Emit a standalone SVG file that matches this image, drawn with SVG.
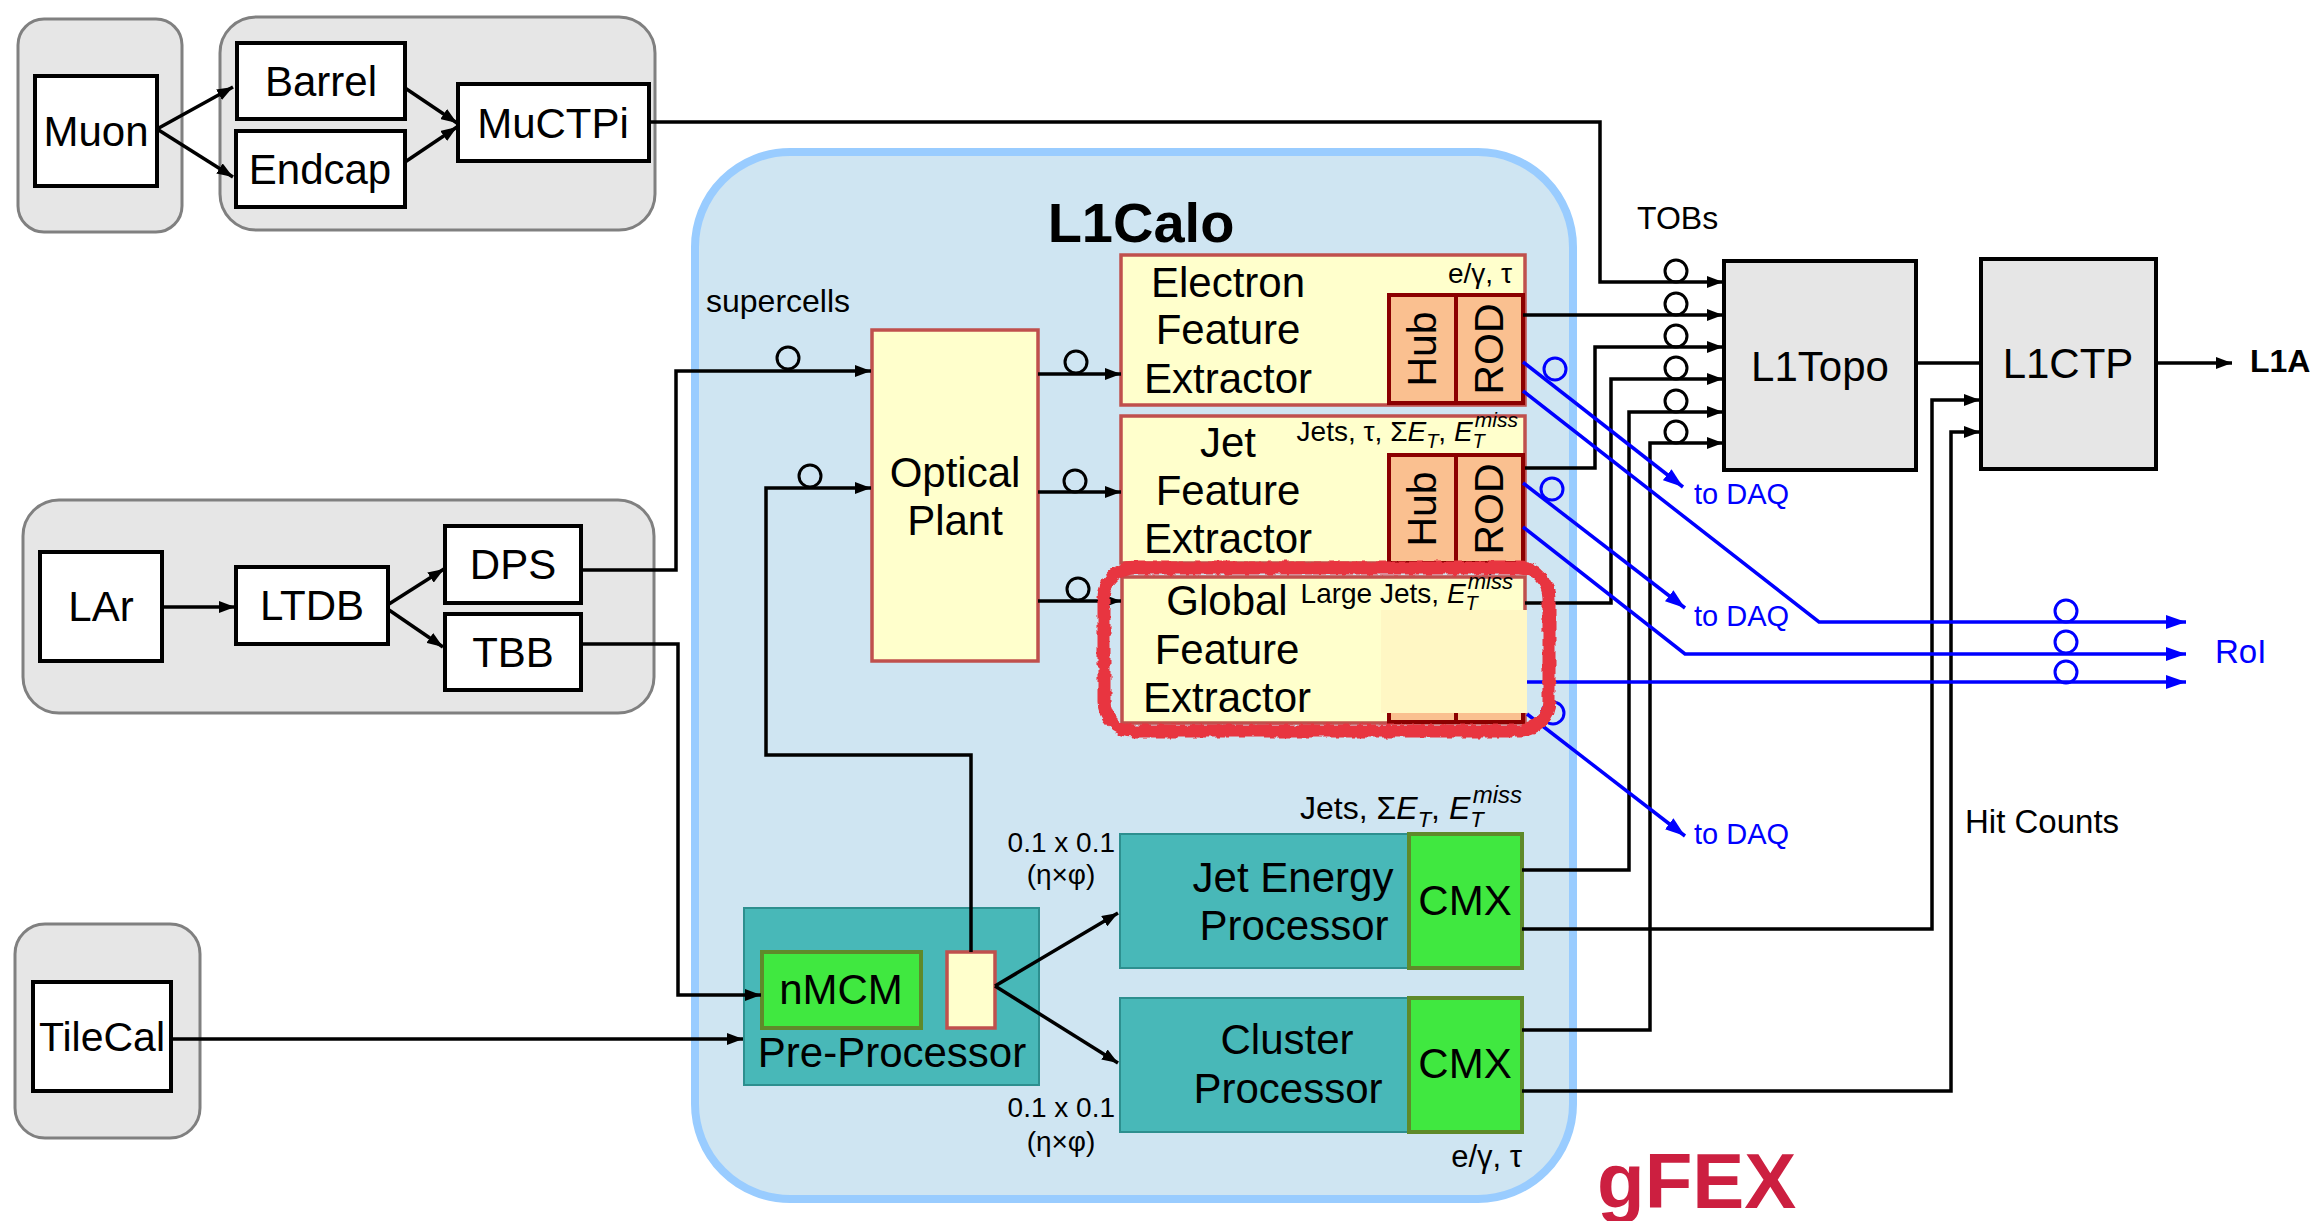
<svg xmlns="http://www.w3.org/2000/svg" width="2318" height="1221" viewBox="0 0 2318 1221">
<defs>
<style>
text{font-family:"Liberation Sans",Arial,sans-serif;fill:#000}
.grp{fill:#e6e6e6;stroke:#808080;stroke-width:3}
.wb{fill:#fff;stroke:#000;stroke-width:4}
.gb{fill:#e6e6e6;stroke:#000;stroke-width:4}
.fex{fill:#ffffcc;stroke:#c0504d;stroke-width:3.5}
.hr{fill:#fac090;stroke:#8b0000;stroke-width:4}
.teal{fill:#48b8b8;stroke:#2d8f8f;stroke-width:2}
.cmx{fill:#40e840;stroke:#5f8a2a;stroke-width:4}
.f42{font-size:42px}
.c{text-anchor:middle}
.e{text-anchor:end}
.it{font-style:italic}
.ln{fill:none;stroke:#000;stroke-width:3.5}
.bl{fill:none;stroke:#0000ff;stroke-width:3.5}
.o{fill:none;stroke:#000;stroke-width:3}
.ob{fill:none;stroke:#0000ff;stroke-width:3}
.blue{fill:#0000ff}
</style>
<marker id="ah" markerUnits="userSpaceOnUse" markerWidth="16" markerHeight="12" refX="16" refY="6" orient="auto"><path d="M0,0 L16,6 L0,12 z" fill="#000"/></marker>
<marker id="ahb" markerUnits="userSpaceOnUse" markerWidth="20" markerHeight="14" refX="20" refY="7" orient="auto"><path d="M0,0 L20,7 L0,14 z" fill="#0000ff"/></marker>
<filter id="rough" x="-5%" y="-10%" width="110%" height="120%"><feTurbulence type="fractalNoise" baseFrequency="0.12" numOctaves="2" seed="4" result="n"/><feDisplacementMap in="SourceGraphic" in2="n" scale="6" xChannelSelector="R" yChannelSelector="G"/></filter>
</defs>
<rect width="2318" height="1221" fill="#fff"/>

<g id="muon-system">
<rect class="grp" x="18" y="19" width="164" height="213" rx="26"/>
<rect class="grp" x="220" y="17" width="435" height="213" rx="36"/>
</g>
<g id="lar-system"><rect class="grp" x="23" y="500" width="631" height="213" rx="36"/></g>
<g id="tile-system"><rect class="grp" x="15" y="924" width="185" height="214" rx="30"/></g>

<g id="l1calo">
<rect x="695" y="152" width="878" height="1047" rx="95" fill="#cfe5f2" stroke="#99ccff" stroke-width="8"/>
<text x="1141" y="242" class="c" font-size="56" font-weight="bold">L1Calo</text>
<text x="706" y="312" font-size="32">supercells</text>
</g>

<g id="muon"><rect class="wb" x="35" y="76" width="122" height="110"/><text x="96" y="146" class="f42 c">Muon</text></g>
<g id="barrel"><rect class="wb" x="237" y="43" width="168" height="76"/><text x="321" y="96" class="f42 c">Barrel</text></g>
<g id="endcap"><rect class="wb" x="236" y="131" width="169" height="76"/><text x="320" y="184" class="f42 c">Endcap</text></g>
<g id="muctpi"><rect class="wb" x="458" y="84" width="191" height="77"/><text x="553" y="138" class="f42 c">MuCTPi</text></g>
<g id="lar"><rect class="wb" x="40" y="552" width="122" height="109"/><text x="101" y="621" class="f42 c">LAr</text></g>
<g id="ltdb"><rect class="wb" x="236" y="567" width="152" height="77"/><text x="312" y="620" class="f42 c">LTDB</text></g>
<g id="dps"><rect class="wb" x="445" y="526" width="136" height="77"/><text x="513" y="579" class="f42 c">DPS</text></g>
<g id="tbb"><rect class="wb" x="445" y="614" width="136" height="76"/><text x="513" y="667" class="f42 c">TBB</text></g>
<g id="tilecal"><rect class="wb" x="33" y="982" width="138" height="109"/><text x="102" y="1051" class="c" font-size="41">TileCal</text></g>

<g id="optical-plant"><rect class="fex" x="872" y="330" width="166" height="331"/><text x="955" y="487" class="f42 c">Optical</text><text x="955" y="535" class="f42 c">Plant</text></g>

<g id="efex">
<rect class="fex" x="1121" y="255" width="404" height="150"/>
<text x="1228" y="297" class="f42 c">Electron</text><text x="1228" y="344" class="f42 c">Feature</text><text x="1228" y="393" class="f42 c">Extractor</text>
<text x="1512" y="283" class="e" font-size="28">e/γ, τ</text>
<rect class="hr" x="1389" y="295" width="67" height="108"/><rect class="hr" x="1456" y="295" width="67" height="108"/>
<text x="1422" y="363" class="c" font-size="41" transform="rotate(-90 1422 349)">Hub</text>
<text x="1489" y="363" class="c" font-size="41" transform="rotate(-90 1489 349)">ROD</text>
</g>

<g id="jfex">
<rect class="fex" x="1121" y="416" width="404" height="147"/>
<text x="1228" y="457" class="f42 c">Jet</text><text x="1228" y="505" class="f42 c">Feature</text><text x="1228" y="553" class="f42 c">Extractor</text>
<text x="1518" y="441" class="e" font-size="28">Jets, τ, Σ<tspan class="it">E</tspan><tspan class="it" font-size="20" dy="7">T</tspan><tspan dy="-7">, </tspan><tspan class="it">E</tspan><tspan class="it" font-size="20" dy="7">T</tspan><tspan class="it" font-size="21" dx="-10" dy="-21">miss</tspan></text>
<rect class="hr" x="1389" y="455" width="67" height="108"/><rect class="hr" x="1456" y="455" width="67" height="108"/>
<text x="1422" y="523" class="c" font-size="41" transform="rotate(-90 1422 509)">Hub</text>
<text x="1489" y="523" class="c" font-size="41" transform="rotate(-90 1489 509)">ROD</text>
</g>

<g id="gfex">
<rect class="fex" x="1122" y="577" width="403" height="146"/>
<rect class="hr" x="1389" y="612" width="67" height="110"/><rect class="hr" x="1456" y="612" width="67" height="110"/>
<rect x="1381" y="610" width="146" height="103" fill="#fff7c4"/>
<text x="1227" y="615" class="f42 c">Global</text><text x="1227" y="664" class="f42 c">Feature</text><text x="1227" y="712" class="f42 c">Extractor</text>
<text x="1513" y="603" class="e" font-size="28">Large Jets, <tspan class="it">E</tspan><tspan class="it" font-size="20" dy="7">T</tspan><tspan class="it" font-size="22" dx="-10" dy="-21">miss</tspan></text>
</g>

<g id="pre-processor">
<rect class="teal" x="744" y="908" width="295" height="177"/>
<rect class="cmx" x="762" y="952" width="159" height="76"/>
<rect class="fex" x="947" y="952" width="48" height="76"/>
<text x="841" y="1004" class="f42 c">nMCM</text>
<text x="892" y="1067" class="f42 c">Pre-Processor</text>
</g>

<g id="jep">
<rect class="teal" x="1120" y="834" width="402" height="134"/>
<rect class="cmx" x="1409" y="834" width="113" height="134"/>
<text x="1293" y="892" class="f42 c">Jet Energy</text><text x="1294" y="940" class="f42 c">Processor</text>
<text x="1465" y="915" class="f42 c">CMX</text>
<text x="1522" y="819" class="e" font-size="32">Jets, Σ<tspan class="it">E</tspan><tspan class="it" font-size="22" dy="8">T</tspan><tspan dy="-8">, </tspan><tspan class="it">E</tspan><tspan class="it" font-size="22" dy="8">T</tspan><tspan class="it" font-size="24" dx="-11" dy="-24">miss</tspan></text>
<text x="1115" y="852" class="e" font-size="28">0.1 x 0.1</text><text x="1061" y="884" class="c" font-size="28">(η×φ)</text>
</g>

<g id="cp">
<rect class="teal" x="1120" y="998" width="402" height="134"/>
<rect class="cmx" x="1409" y="998" width="113" height="134"/>
<text x="1287" y="1054" class="f42 c">Cluster</text><text x="1288" y="1103" class="f42 c">Processor</text>
<text x="1465" y="1078" class="f42 c">CMX</text>
<text x="1522" y="1167" class="e" font-size="31">e/γ, τ</text>
<text x="1115" y="1117" class="e" font-size="28">0.1 x 0.1</text><text x="1061" y="1151" class="c" font-size="28">(η×φ)</text>
</g>

<g id="l1topo"><rect class="gb" x="1724" y="261" width="192" height="209"/><text x="1820" y="381" class="f42 c">L1Topo</text></g>
<g id="l1ctp"><rect class="gb" x="1981" y="259" width="175" height="210"/><text x="2068" y="378" class="f42 c">L1CTP</text></g>

<g id="connectors">
<path class="ln" marker-end="url(#ah)" d="M157,129 L233,87"/>
<path class="ln" marker-end="url(#ah)" d="M157,129 L233,177"/>
<path class="ln" marker-end="url(#ah)" d="M405,88 L457,123"/>
<path class="ln" marker-end="url(#ah)" d="M405,162 L457,127"/>
<path class="ln" marker-end="url(#ah)" d="M649,122 H1600 V282 H1723"/>
<path class="ln" marker-end="url(#ah)" d="M162,607 H235"/>
<path class="ln" marker-end="url(#ah)" d="M389,604 L444,569"/>
<path class="ln" marker-end="url(#ah)" d="M389,610 L443,647"/>
<path class="ln" marker-end="url(#ah)" d="M581,570 H676 V371 H871"/>
<path class="ln" marker-end="url(#ah)" d="M581,644 H678 V995 H761"/>
<path class="ln" marker-end="url(#ah)" d="M171,1039 H743"/>
<path class="ln" marker-end="url(#ah)" d="M971,952 V755 H766 V488 H871"/>
<path class="ln" marker-end="url(#ah)" d="M1038,374 H1121"/>
<path class="ln" marker-end="url(#ah)" d="M1038,492 H1121"/>
<path class="ln" marker-end="url(#ah)" d="M1038,601 H1121"/>
<path class="ln" marker-end="url(#ah)" d="M995,986 L1118,913"/>
<path class="ln" marker-end="url(#ah)" d="M995,986 L1118,1063"/>
<path class="ln" marker-end="url(#ah)" d="M1523,315 H1723"/>
<path class="ln" marker-end="url(#ah)" d="M1525,468 H1595 V347 H1723"/>
<path class="ln" marker-end="url(#ah)" d="M1525,603 H1611 V379 H1723"/>
<path class="ln" marker-end="url(#ah)" d="M1522,870 H1629 V412 H1723"/>
<path class="ln" marker-end="url(#ah)" d="M1522,1030 H1650 V443 H1723"/>
<path class="ln" marker-end="url(#ah)" d="M1522,929 H1932 V400 H1980"/>
<path class="ln" marker-end="url(#ah)" d="M1522,1091 H1951 V432 H1980"/>
<path class="ln" d="M1916,363 H1981"/>
<path class="ln" marker-end="url(#ah)" d="M2156,363 H2232"/>
<path class="bl" marker-end="url(#ahb)" d="M1523,362 L1683,487"/>
<path class="bl" marker-end="url(#ahb)" d="M1523,391 L1819,622 H2186"/>
<path class="bl" marker-end="url(#ahb)" d="M1523,483 L1685,608"/>
<path class="bl" marker-end="url(#ahb)" d="M1523,527 L1685,654 H2186"/>
<path class="bl" marker-end="url(#ahb)" d="M1527,682 H2186"/>
<path class="bl" marker-end="url(#ahb)" d="M1527,714 L1685,836"/>
<circle class="o" cx="788" cy="358" r="11"/>
<circle class="o" cx="810" cy="476" r="11"/>
<circle class="o" cx="1076" cy="362" r="11"/>
<circle class="o" cx="1075" cy="481" r="11"/>
<circle class="o" cx="1078" cy="589" r="11"/>
<circle class="o" cx="1676" cy="271" r="11"/>
<circle class="o" cx="1676" cy="304" r="11"/>
<circle class="o" cx="1676" cy="336" r="11"/>
<circle class="o" cx="1676" cy="368" r="11"/>
<circle class="o" cx="1676" cy="401" r="11"/>
<circle class="o" cx="1676" cy="432" r="11"/>
<circle class="ob" cx="1555" cy="369" r="11"/>
<circle class="ob" cx="1552" cy="489" r="11"/>
<circle class="ob" cx="1553" cy="713" r="11"/>
<circle class="ob" cx="2066" cy="611" r="11"/>
<circle class="ob" cx="2066" cy="642" r="11"/>
<circle class="ob" cx="2066" cy="672" r="11"/>
</g>

<g id="labels">
<text x="1637" y="229" font-size="32">TOBs</text>
<text x="2250" y="372" font-size="32" font-weight="bold">L1A</text>
<text x="1965" y="833" font-size="33">Hit Counts</text>
<text x="1694" y="504" font-size="29" class="blue">to DAQ</text>
<text x="1694" y="626" font-size="29" class="blue">to DAQ</text>
<text x="1694" y="844" font-size="29" class="blue">to DAQ</text>
<text x="2215" y="663" font-size="33" class="blue">RoI</text>
</g>

<g id="gfex-highlight">
<rect x="1104" y="568" width="445" height="163" rx="30" fill="none" stroke="#e8343f" stroke-width="13" filter="url(#rough)"/>
<text x="1597" y="1208" font-size="78" font-weight="bold" style="fill:#cc1f40">gFEX</text>
</g>
</svg>
